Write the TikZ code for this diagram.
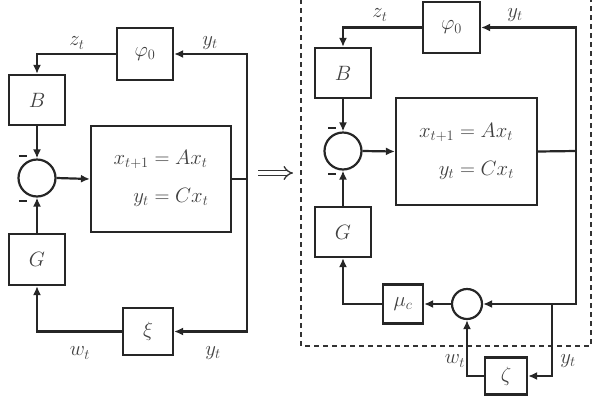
\documentclass[tikz,border=0pt]{standalone}
\usepackage{amsmath}
\usetikzlibrary{arrows.meta}
\begin{document}
\begin{tikzpicture}[x=1pt,y=-1pt,
  every node/.style={font=\fontsize{20}{24}\selectfont,text=black!75},
  blk/.style={draw=black!85,line width=2.2pt,rectangle,inner sep=0pt},
  sumnode/.style={draw=black!85,line width=2.2pt,circle,inner sep=0pt},
  wire/.style={draw=black!85,line width=2.2pt},
  arr/.style={wire,-{Latex[length=9pt,width=8pt]}},
  lbl/.style={inner sep=0pt},
  minus/.style={inner sep=0pt}
]
\useasboundingbox (0,0) rectangle (600,400);
% ---------- left diagram ----------
\node[blk,minimum width=56pt,minimum height=52pt] (phi0L) at (145,54) {$\varphi_0$};
\node[blk,minimum width=56pt,minimum height=50pt] (BL) at (37,100) {$B$};
\node[sumnode,minimum size=37pt] (sumL) at (37,178) {};
\node[blk,minimum width=140pt,minimum height=106pt] (sysL) at (161,179) {$\begin{aligned} x_{t+1} &= Ax_t\\[11pt] y_t &= Cx_t\end{aligned}$};
\node[blk,minimum width=56pt,minimum height=51pt] (GL) at (37,259.5) {$G$};
\node[blk,minimum width=50pt,minimum height=47pt] (xiL) at (148,331.5) {$\xi$};
\coordinate (outL) at (247,179);
\draw[wire] (sysL.east) -- (outL);
\draw[arr] (outL) |- (phi0L.east);
\draw[arr] (outL) |- (xiL.east);
\draw[arr] (phi0L.west) -| (BL.north);
\draw[arr] (BL.south) -- (sumL.north);
\draw[arr] (sumL.east) -- (sysL.west);
\draw[arr] (GL.north) -- (sumL.south);
\draw[arr] (xiL.west) -| (GL.south);
\node[lbl] (zL) at (77,43) {$z_t$};
\node[lbl] (yL1) at (210,43) {$y_t$};
\node[lbl] (wL) at (80,353) {$w_t$};
\node[lbl] (yL2) at (213,353) {$y_t$};
\node[minus] (m1L) at (23,156) {\color{black!85}\rule{8pt}{2.2pt}};
\node[minus] (m2L) at (23,201) {\color{black!85}\rule{8pt}{2.2pt}};
% ---------- implication arrow ----------
\coordinate (implA) at (258,173);
\coordinate (implB) at (293,173);
\draw[black!80,line width=1.3pt,double,double distance=3.5pt,-{Implies[]}] (implA) -- (implB);
% ---------- right diagram ----------
\draw[black!80,line width=1.8pt,dash pattern=on 5pt off 4pt] (301,-10) rectangle (591,346);
\node[blk,minimum width=57pt,minimum height=51pt] (phi0R) at (451.5,27.5) {$\varphi_0$};
\node[blk,minimum width=56pt,minimum height=50pt] (BR) at (343,73) {$B$};
\node[sumnode,minimum size=37pt] (sumR) at (343,151) {};
\node[blk,minimum width=141pt,minimum height=107pt] (sysR) at (466.5,151.5) {$\begin{aligned} x_{t+1} &= Ax_t\\[11pt] y_t &= Cx_t\end{aligned}$};
\node[blk,minimum width=56pt,minimum height=50pt] (GR) at (343,232) {$G$};
\node[sumnode,minimum size=30pt] (sum2R) at (467,304) {};
\node[blk,minimum width=40pt,minimum height=39pt] (muR) at (403,304) {$\mu_c$};
\node[blk,minimum width=42pt,minimum height=37pt] (zetaR) at (506,376) {$\zeta$};
\coordinate (outR) at (576,151);
\coordinate (brR) at (552,304);
\draw[wire] (sysR.east) -- (outR);
\draw[arr] (outR) |- (phi0R.east);
\draw[arr] (outR) |- (sum2R.east);
\draw[arr] (brR) |- (zetaR.east);
\draw[arr] (zetaR.west) -| (sum2R.south);
\draw[arr] (sum2R.west) -- (muR.east);
\draw[arr] (muR.west) -| (GR.south);
\draw[arr] (GR.north) -- (sumR.south);
\draw[arr] (BR.south) -- (sumR.north);
\draw[arr] (sumR.east) -- (sysR.west);
\draw[arr] (phi0R.west) -| (BR.north);
\node[lbl] (zR) at (380,15) {$z_t$};
\node[lbl] (yR1) at (515,15) {$y_t$};
\node[lbl] (wR) at (455,361) {$w_t$};
\node[lbl] (yR2) at (568,361) {$y_t$};
\node[minus] (m1R) at (332,128) {\color{black!85}\rule{8pt}{2.2pt}};
\node[minus] (m2R) at (332,174) {\color{black!85}\rule{8pt}{2.2pt}};
\end{tikzpicture}
\end{document}
